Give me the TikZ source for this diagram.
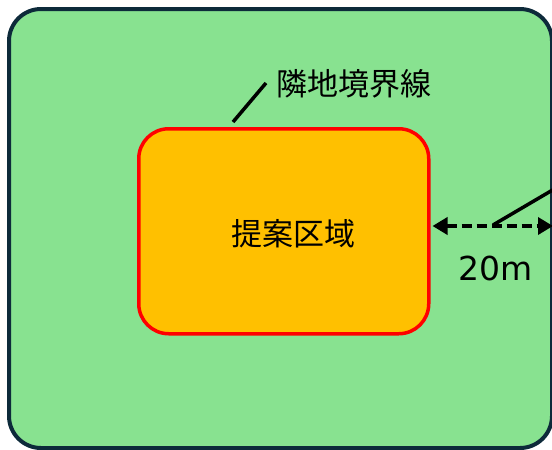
\documentclass[tikz,border=0pt]{standalone}
\usepackage{fontspec}
\setmainfont{Noto Sans CJK JP}
\newfontfamily\dimfont{DejaVu Sans}
\usetikzlibrary{arrows.meta}
\definecolor{bggreen}{HTML}{88E290}
\definecolor{navy}{HTML}{0D2A3A}
\definecolor{zone}{HTML}{FFC000}
\tikzset{
  outerbox/.style={draw=navy, fill=bggreen, line width=4pt, rounded corners=32pt},
  zonebox/.style={draw=red, fill=zone, line width=3.5pt, rounded corners=30pt},
  lbl/.style={font=\fontsize{31}{34}\selectfont, inner sep=0pt},
  leader/.style={line width=3.5pt, black},
  dimarrow/.style={line width=3.5pt, dash pattern=on 10pt off 5pt, {Triangle[length=15pt,width=17pt]}-{Triangle[length=15pt,width=17pt]}}
}
\begin{document}
\begin{tikzpicture}[x=1pt,y=-1pt]
\useasboundingbox (0,0) rectangle (552,450);
\draw[outerbox] (9,9) rectangle (552,448);
\node[zonebox, minimum width=290pt, minimum height=205pt, anchor=north west] (zone) at (137,127) {};
\node[lbl] (zlabel) at (293,234) {提案区域};
\node[lbl, anchor=west] (blabel) at (276,84) {隣地境界線};
\coordinate (lstart) at (233,122);
\coordinate (lend) at (266,83);
\draw[leader] (lstart) -- (lend);
\coordinate (aend) at (553,226);
\draw[dimarrow] (zone.east |- aend) ++(2,0) coordinate (astart) -- (aend);
\coordinate (l2a) at (493,225);
\coordinate (l2b) at (556,188);
\draw[leader] (l2a) -- (l2b);
\node[inner sep=0pt, font=\dimfont\fontsize{33}{36}\selectfont] (dim) at (496,268) {20m};
\end{tikzpicture}
\end{document}
